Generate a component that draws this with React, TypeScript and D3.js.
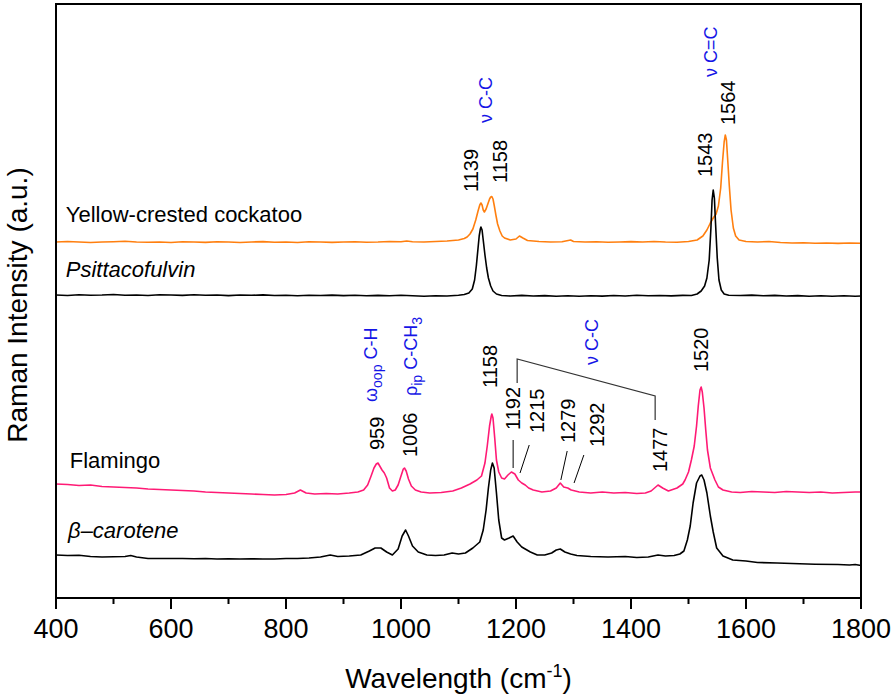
import React from 'react';
import * as d3 from 'd3';

// ---------- data (wavenumber cm-1, intensity a.u. with vertical offsets) ----------
const X_TICK_LABELS = [400, 600, 800, 1000, 1200, 1400, 1600, 1800];
const X_MINOR_TICKS = [500, 700, 900, 1100, 1300, 1500, 1700];

const cockatoo: [number, number][] = [
  [400, 356], [420, 356.5], [440, 356], [460, 355.5], [480, 356], [500, 356.3], [520, 356.8], [540, 356],
  [560, 355.7], [580, 356], [600, 355.5], [620, 356.2], [640, 356], [660, 355.6], [680, 356.3], [700, 356],
  [720, 355.5], [740, 356], [760, 356.4], [780, 355.8], [800, 356], [820, 355.5], [840, 356.2], [860, 356],
  [880, 355.6], [900, 356], [920, 356.3], [940, 355.8], [960, 356], [980, 356.5], [1000, 356.2], [1010, 357],
  [1020, 356.3], [1040, 356], [1060, 356.5], [1080, 357], [1100, 358], [1110, 359.5], [1115, 361], [1120, 364],
  [1125, 369], [1130, 378], [1134, 387], [1137, 393], [1139, 395], [1141, 393], [1143, 388], [1145, 386],
  [1148, 389], [1151, 394], [1154, 399], [1156, 401], [1158, 401.5], [1160, 399], [1162, 393], [1165, 383],
  [1168, 374], [1172, 367], [1176, 362], [1180, 360], [1190, 358], [1200, 359], [1206, 362], [1212, 360],
  [1220, 357.5], [1240, 356.5], [1260, 356], [1280, 356.3], [1295, 358], [1300, 356.5], [1320, 356],
  [1340, 356.3], [1360, 355.8], [1380, 356], [1400, 356.4], [1420, 356], [1440, 356.5], [1460, 356],
  [1480, 355.8], [1500, 356.5], [1515, 358], [1525, 362], [1532, 368], [1538, 375], [1543, 380], [1548, 384],
  [1552, 392], [1556, 410], [1559, 435], [1562, 456], [1564, 463], [1566, 458], [1568, 440], [1571, 412],
  [1574, 388], [1578, 370], [1582, 362], [1588, 358], [1600, 356.5], [1620, 356], [1640, 356.5], [1660, 355.5],
  [1680, 355], [1700, 355.2], [1720, 354.8], [1740, 355], [1760, 354.6], [1780, 355], [1800, 354.8],
];

const psittacofulvin: [number, number][] = [
  [400, 303], [420, 302.5], [440, 303.2], [460, 302.8], [480, 303], [500, 303.5], [520, 302.7], [540, 303],
  [560, 302.5], [580, 303.3], [600, 303], [620, 302.6], [640, 303.2], [660, 302.8], [680, 303], [700, 302.4],
  [720, 303], [740, 302.7], [760, 303.1], [780, 302.5], [800, 302.8], [820, 302.3], [840, 302.8], [860, 302.5],
  [880, 302.9], [900, 302.4], [920, 302.8], [940, 302.2], [960, 302.6], [980, 302.3], [1000, 302.7],
  [1020, 302.2], [1040, 301.8], [1060, 302.3], [1080, 302], [1100, 302.8], [1110, 303.5], [1118, 305],
  [1124, 309], [1128, 318], [1131, 332], [1134, 350], [1136, 362], [1138, 369], [1139, 371], [1141, 368],
  [1143, 358], [1146, 343], [1149, 330], [1152, 320], [1156, 312], [1160, 307], [1166, 304], [1175, 302.5],
  [1190, 302], [1210, 302.6], [1230, 302], [1250, 302.4], [1270, 301.8], [1290, 302.3], [1310, 301.8],
  [1330, 302.3], [1350, 301.9], [1370, 302.5], [1390, 302], [1410, 302.7], [1430, 302.2], [1450, 302.5],
  [1470, 302.1], [1490, 302.6], [1505, 302.5], [1515, 304], [1522, 307], [1528, 312], [1532, 320],
  [1536, 338], [1539, 370], [1541, 398], [1543, 408], [1545, 400], [1547, 375], [1550, 340], [1553, 318],
  [1557, 308], [1562, 304], [1570, 302.8], [1590, 302.5], [1610, 302.9], [1630, 302.2], [1650, 302.6],
  [1670, 302], [1690, 302.4], [1710, 301.8], [1730, 302.2], [1750, 301.8], [1770, 302.2], [1790, 301.7],
  [1800, 302],
];

const flamingo: [number, number][] = [
  [400, 114], [420, 113.5], [440, 112.5], [460, 113], [480, 111.5], [500, 111], [520, 110.5], [540, 110],
  [560, 109], [580, 108.5], [600, 108], [620, 107.5], [640, 107], [660, 106], [680, 105.5], [700, 105],
  [720, 104.5], [740, 104], [760, 103.5], [780, 103], [800, 103.5], [815, 105], [825, 108], [835, 105],
  [850, 104], [870, 104.5], [890, 104], [910, 105], [925, 106], [935, 108], [942, 113], [948, 122],
  [953, 130], [957, 134], [960, 135], [963, 132], [967, 128], [971, 125], [975, 120], [980, 110], [985, 107],
  [990, 108], [995, 113], [1000, 122], [1004, 129], [1006, 130], [1009, 127], [1013, 119], [1018, 112],
  [1025, 108], [1035, 106], [1050, 105], [1070, 105.5], [1090, 107], [1105, 110], [1120, 114], [1132, 118],
  [1140, 122], [1146, 135], [1150, 152], [1154, 172], [1157, 182], [1158, 184], [1160, 180], [1163, 160],
  [1166, 138], [1170, 126], [1175, 120], [1180, 119], [1186, 123], [1192, 126], [1198, 124], [1204, 118],
  [1210, 115], [1216, 113], [1222, 110], [1230, 108], [1245, 106], [1260, 107], [1270, 110], [1277, 115],
  [1283, 111], [1290, 110], [1296, 108], [1310, 106], [1330, 105], [1350, 106], [1370, 105], [1390, 105.5],
  [1410, 104.5], [1425, 105], [1435, 107], [1447, 113], [1455, 110], [1465, 107], [1480, 110], [1490, 114],
  [1494, 118], [1500, 126], [1505, 138], [1510, 152], [1514, 172], [1517, 192], [1520, 208], [1522, 211],
  [1524, 206], [1527, 190], [1530, 168], [1533, 148], [1538, 130], [1546, 118], [1552, 111], [1560, 108],
  [1575, 106], [1590, 105.5], [1610, 106.5], [1630, 106], [1650, 105.5], [1670, 106.5], [1690, 106],
  [1710, 105.5], [1730, 106], [1750, 105], [1770, 105.5], [1790, 106], [1800, 106],
];

const betaCarotene: [number, number][] = [
  [400, 43], [420, 42.5], [440, 42.8], [460, 41.5], [480, 41], [500, 41.2], [520, 41.5], [530, 42.5],
  [540, 41], [560, 39.5], [580, 39.5], [600, 39.5], [620, 39.5], [640, 39.2], [660, 39.5], [680, 39],
  [700, 39.3], [720, 39], [740, 39.2], [760, 39], [780, 39], [800, 39.5], [820, 39.5], [840, 40], [860, 41],
  [877, 43], [890, 41.5], [910, 42], [930, 43], [945, 47], [955, 50], [965, 50], [975, 46], [985, 43],
  [995, 49], [1002, 62], [1008, 68], [1013, 62], [1020, 52], [1030, 46], [1045, 43], [1060, 42.5], [1075, 43],
  [1089, 45], [1100, 44], [1112, 45], [1125, 50], [1137, 56], [1143, 68], [1148, 88], [1152, 110], [1156, 128],
  [1159, 135], [1162, 130], [1166, 105], [1170, 78], [1175, 60], [1180, 58], [1188, 60], [1195, 62],
  [1202, 56], [1210, 51], [1216, 49], [1225, 46], [1237, 43], [1250, 43], [1262, 45], [1270, 48], [1277, 49],
  [1285, 46], [1295, 44], [1306, 42.5], [1330, 41.5], [1360, 41], [1390, 41.5], [1410, 40.5], [1430, 41],
  [1447, 43], [1460, 42], [1475, 42.5], [1485, 44], [1492, 47], [1498, 58], [1503, 72], [1508, 95],
  [1514, 115], [1520, 122], [1523, 123], [1527, 118], [1532, 105], [1538, 82], [1543, 66], [1549, 50],
  [1560, 42], [1577, 38], [1600, 37], [1620, 35.5], [1654, 35], [1680, 34.5], [1720, 33.8], [1760, 33.5],
  [1780, 33], [1790, 33.5], [1800, 32.5],
];

const SERIES_NAMES = ['Yellow-crested cockatoo', 'Psittacofulvin', 'Flamingo', 'β–carotene'];
const SERIES_LABEL_ANCHORS: [number, number][] = [[417, 376], [417, 321], [424, 130], [421, 60]];

// peak numbers: [label, wavenumber anchor, intensity anchor]
const PEAK_LABELS: [string, number, number][] = [
  ['1139', 1122, 406], ['1158', 1172, 415], ['1543', 1529, 421], ['1564', 1569, 473],
  ['959', 958, 148], ['1006', 1016, 141], ['1158', 1155, 210], ['1192', 1195, 168], ['1215', 1237, 165],
  ['1279', 1290, 155], ['1292', 1341, 151], ['1477', 1450, 126], ['1520', 1522, 226],
];

// leader lines [w1, v1, w2, v2]
const LEADERS: [number, number, number, number][] = [
  [1195, 158, 1195, 130], [1223, 153, 1207, 125], [1289, 147, 1278, 118], [1318, 143, 1301, 115],
];
const BRACKET: [number, number][] = [[1202, 215], [1202, 239], [1442, 202], [1442, 178]];

const W = 896, H = 698;
const M = { left: 56, right: 861, top: 4, bottom: 598 };
const FONT = '"Liberation Sans", Arial, Helvetica, sans-serif';
const BLUE = '#1515e6';

export default function App() {
  const x = d3.scaleLinear().domain([400, 1800]).range([M.left, M.right]);
  const y = d3.scaleLinear().domain([0, 594]).range([M.bottom, M.top]);
  const line = d3.line<[number, number]>().x(d => x(d[0])).y(d => y(d[1]));

  const series: { data: [number, number][]; color: string }[] = [
    { data: cockatoo, color: '#ff7f0f' },
    { data: psittacofulvin, color: '#000000' },
    { data: flamingo, color: '#ff1a75' },
    { data: betaCarotene, color: '#000000' },
  ];

  const rot = (w: number, v: number) => `translate(${x(w)},${y(v)}) rotate(-90)`;

  return (
    <svg width={W} height={H} style={{ position: 'absolute', left: 0, top: 0, background: '#fff' }} fontFamily={FONT}>
      <rect x={0} y={0} width={W} height={H} fill="#fff" />
      {series.map((s, i) => (
        <path key={i} d={line(s.data) || ''} fill="none" stroke={s.color} strokeWidth={1.6} strokeLinejoin="round" />
      ))}

      {/* frame */}
      <rect x={M.left} y={M.top} width={M.right - M.left} height={M.bottom - M.top} fill="none" stroke="#000" strokeWidth={2} />

      {/* x ticks */}
      {X_TICK_LABELS.map(t => (
        <g key={'t' + t}>
          <line x1={x(t)} x2={x(t)} y1={M.bottom} y2={M.bottom + 11} stroke="#000" strokeWidth={2} />
          <text x={x(t)} y={638} textAnchor="middle" fontSize={27} fill="#000">{t}</text>
        </g>
      ))}
      {X_MINOR_TICKS.map(t => (
        <line key={'m' + t} x1={x(t)} x2={x(t)} y1={M.bottom} y2={M.bottom + 6} stroke="#000" strokeWidth={2} />
      ))}

      {/* axis titles */}
      <text x={(M.left + M.right) / 2} y={688} textAnchor="middle" fontSize={28} fill="#000">
        Wavelength (cm<tspan dy={-11} fontSize={18}>-1</tspan><tspan dy={11}>)</tspan>
      </text>
      <text transform={`translate(27,305) rotate(-90)`} textAnchor="middle" fontSize={28} fill="#000">
        Raman Intensity (a.u.)
      </text>

      {/* series labels */}
      {SERIES_NAMES.map((n, i) => (
        <text key={n} x={x(SERIES_LABEL_ANCHORS[i][0])} y={y(SERIES_LABEL_ANCHORS[i][1])} fontSize={22}
          fontStyle={i % 2 === 1 ? 'italic' : 'normal'} fill="#000">{n}</text>
      ))}

      {/* peak labels */}
      {PEAK_LABELS.map(([t, w, v], i) => (
        <text key={'p' + i} transform={rot(w, v)} dy="0.35em" fontSize={20} fill="#000">{t}</text>
      ))}

      {/* leaders */}
      {LEADERS.map(([w1, v1, w2, v2], i) => (
        <line key={'l' + i} x1={x(w1)} y1={y(v1)} x2={x(w2)} y2={y(v2)} stroke="#000" strokeWidth={1} />
      ))}
      <path d={d3.line()(BRACKET.map(([w, v]) => [x(w), y(v)] as [number, number])) || ''} fill="none" stroke="#333" strokeWidth={1.2} />

      {/* vibrational assignments */}
      <text transform={rot(1148, 475)} dy="0.35em" fontSize={18} fill={BLUE}>ν C-C</text>
      <text transform={rot(1539, 521)} dy="0.35em" fontSize={18} fill={BLUE}>ν C=C</text>
      <text transform={rot(1332, 233)} dy="0.35em" fontSize={18} fill={BLUE}>ν C-C</text>
      <text transform={rot(948, 196)} dy="0.35em" fontSize={18} fill={BLUE}>
        ω<tspan dy={5} fontSize={14}>oop</tspan><tspan dy={-5}> C-H</tspan>
      </text>
      <text transform={rot(1017, 202)} dy="0.35em" fontSize={18} fill={BLUE}>
        ρ<tspan dy={5} fontSize={14}>ip</tspan><tspan dy={-5}> C-CH</tspan><tspan dy={5} fontSize={14}>3</tspan>
      </text>
    </svg>
  );
}
